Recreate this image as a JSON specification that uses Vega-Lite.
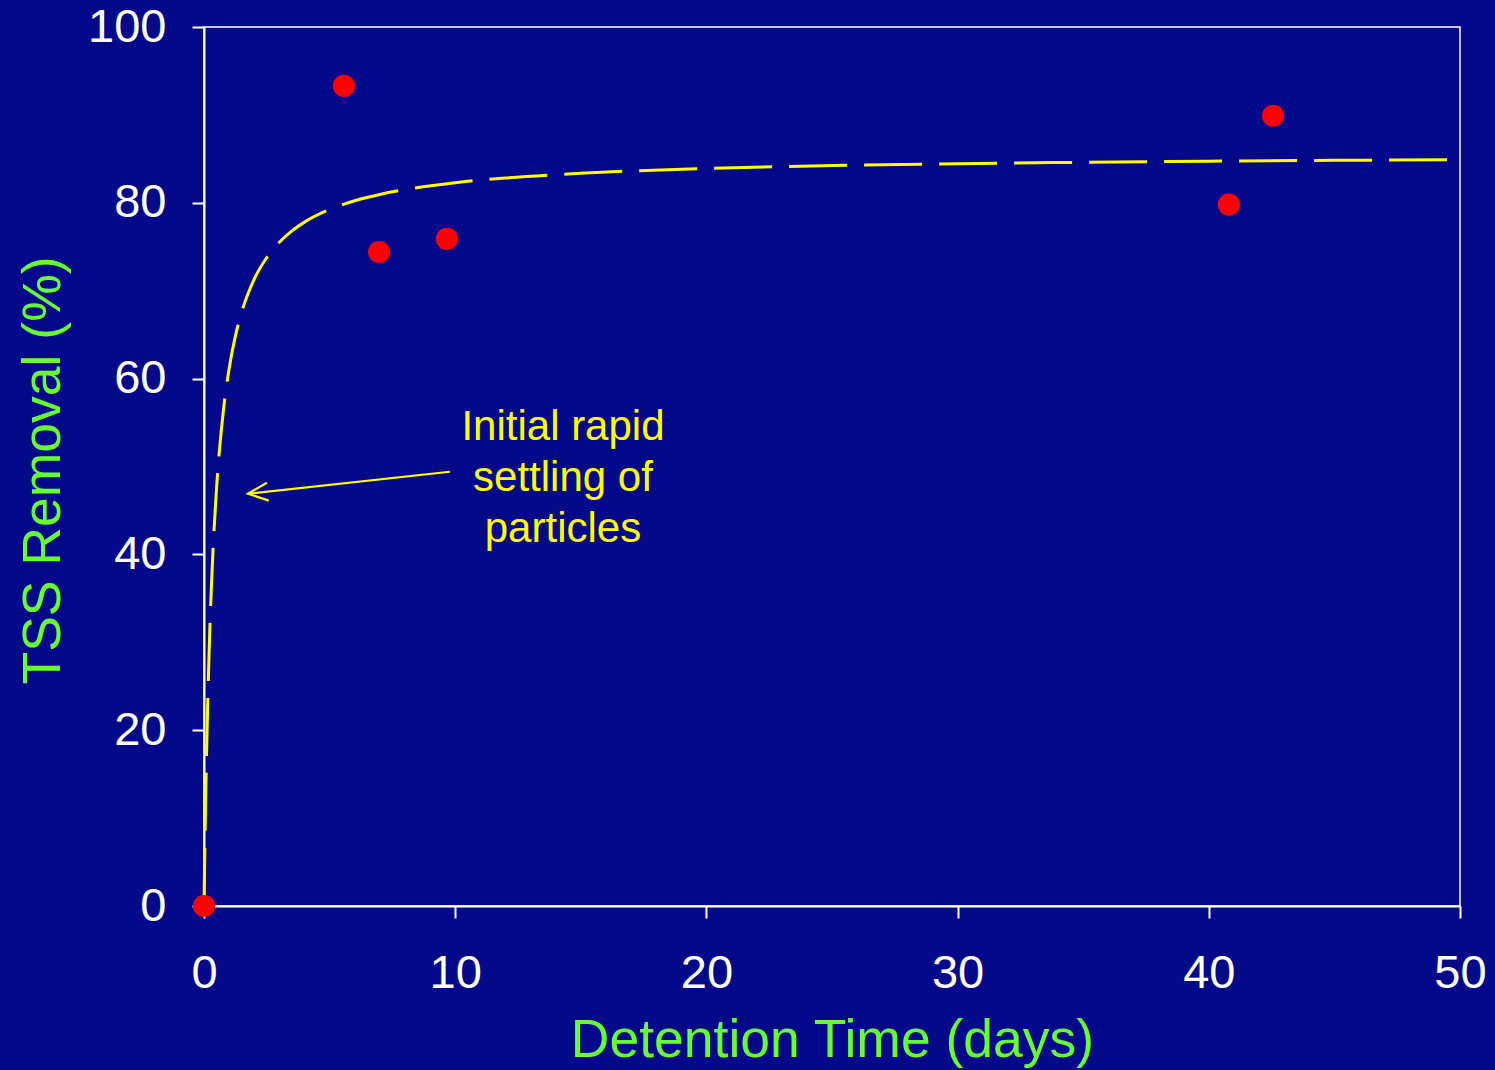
{
  "$schema": "https://vega.github.io/schema/vega-lite/v6.json",
  "autosize": {"type": "none"},
  "width": 1256,
  "height": 879,
  "padding": {"left": 204, "top": 27, "right": 35, "bottom": 164},
  "background": "#04098a",
  "config": {
    "view": {"stroke": "#ffffff", "strokeWidth": 1.5},
    "font": "Liberation Sans",
    "axis": {
      "grid": false,
      "domainColor": "#ffffff",
      "domainWidth": 2,
      "tickColor": "#ffffff",
      "tickWidth": 2,
      "tickSize": 12,
      "labelColor": "#ffffff",
      "labelFont": "Liberation Sans",
      "labelFontSize": 47,
      "labelFlush": false,
      "labelOverlap": false,
      "titleColor": "#66ff33",
      "titleFont": "Liberation Sans",
      "titleFontSize": 53.5,
      "titleFontWeight": "normal"
    }
  },
  "datasets": {
    "curve": [
      {"t": 0, "r": 0},
      {"t": 0.05, "r": 9.51},
      {"t": 0.1, "r": 17.12},
      {"t": 0.2, "r": 28.53},
      {"t": 0.3, "r": 36.68},
      {"t": 0.4, "r": 42.79},
      {"t": 0.5, "r": 47.54},
      {"t": 0.6, "r": 51.35},
      {"t": 0.8, "r": 57.05},
      {"t": 1.0, "r": 61.13},
      {"t": 1.25, "r": 64.83},
      {"t": 1.5, "r": 67.56},
      {"t": 2, "r": 71.32},
      {"t": 2.5, "r": 73.78},
      {"t": 3, "r": 75.51},
      {"t": 3.5, "r": 76.8},
      {"t": 4, "r": 77.8},
      {"t": 5, "r": 79.24},
      {"t": 6, "r": 80.23},
      {"t": 7, "r": 80.95},
      {"t": 8, "r": 81.5},
      {"t": 10, "r": 82.29},
      {"t": 12, "r": 82.82},
      {"t": 15, "r": 83.36},
      {"t": 20, "r": 83.9},
      {"t": 25, "r": 84.23},
      {"t": 30, "r": 84.45},
      {"t": 35, "r": 84.61},
      {"t": 40, "r": 84.73},
      {"t": 45, "r": 84.83},
      {"t": 49.5, "r": 84.89}
    ],
    "obs": [
      {"t": 0, "r": 0},
      {"t": 5.57, "r": 93.3},
      {"t": 6.97, "r": 74.4},
      {"t": 9.67, "r": 75.9},
      {"t": 40.8, "r": 79.8},
      {"t": 42.56, "r": 89.9}
    ],
    "arrow": [
      {"t": 9.79, "r": 49.4, "t2": 1.75, "r2": 46.9}
    ],
    "label": [
      {"t": 14.29, "r": 53.0, "txt": "Initial rapid"},
      {"t": 14.29, "r": 47.2, "txt": "settling of"},
      {"t": 14.29, "r": 41.4, "txt": "particles"}
    ]
  },
  "encoding": {
    "x": {
      "field": "t",
      "type": "quantitative",
      "scale": {"domain": [0, 50], "nice": false, "zero": true},
      "axis": {
        "values": [0, 10, 20, 30, 40, 50],
        "labelPadding": 32,
        "title": "Detention Time (days)",
        "titleBaseline": "alphabetic",
        "titleY": 150
      }
    },
    "y": {
      "field": "r",
      "type": "quantitative",
      "scale": {"domain": [0, 100], "nice": false},
      "axis": {
        "values": [0, 20, 40, 60, 80, 100],
        "labelPadding": 26,
        "title": "TSS Removal (%)",
        "titleBaseline": "alphabetic",
        "titleX": -145,
        "titleY": 443
      }
    }
  },
  "layer": [
    {
      "data": {"name": "curve"},
      "mark": {"type": "line", "color": "#ffff00", "strokeWidth": 3, "strokeDash": [58, 17], "interpolate": "monotone"},
      "encoding": {}
    },
    {
      "data": {"name": "arrow"},
      "mark": {"type": "rule", "color": "#ffff00", "strokeWidth": 2.2},
      "encoding": {
        "x2": {"field": "t2"},
        "y2": {"field": "r2"}
      }
    },
    {
      "data": {"name": "arrow"},
      "mark": {"type": "point", "shape": "M2,-0.9L0,0L2,0.9", "filled": false, "stroke": "#ffff00", "strokeWidth": 2.2, "size": 400, "angle": 354, "opacity": 1},
      "encoding": {
        "x": {"field": "t2", "type": "quantitative"},
        "y": {"field": "r2", "type": "quantitative"}
      }
    },
    {
      "data": {"name": "label"},
      "mark": {"type": "text", "color": "#ffff00", "font": "Liberation Sans", "fontSize": 42, "align": "center", "baseline": "alphabetic"},
      "encoding": {
        "text": {"field": "txt"}
      }
    },
    {
      "data": {"name": "obs"},
      "mark": {"type": "circle", "color": "#ff0000", "size": 490, "opacity": 1},
      "encoding": {}
    }
  ]
}
